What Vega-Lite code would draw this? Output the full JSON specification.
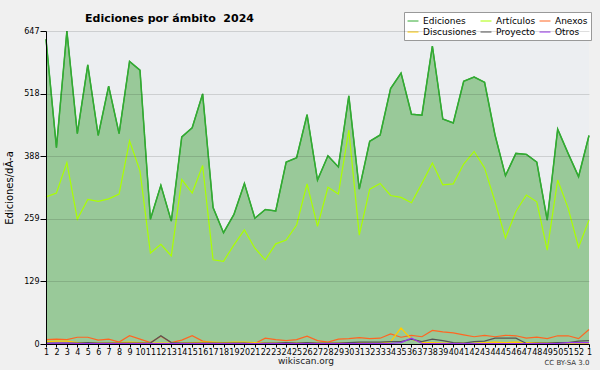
{
 "$schema": "https://vega.github.io/schema/vega-lite/v6.json",
 "width": 543, "height": 313,
 "autosize": {"type": "none"},
 "padding": {"left": 46, "top": 31, "right": 11, "bottom": 26},
 "background": "#f0f0f0",
 "config": {"view": {"fill": "#eceef1", "stroke": null}, "font": "DejaVu Sans"},
 "title": {"text": "Ediciones por ámbito \u00a02024", "anchor": "start", "frame": "group", "dx": 39, "dy": 33, "offset": 12, "fontSize": 11, "fontWeight": "bold", "font": "DejaVu Sans", "color": "#000", "baseline": "alphabetic"},
 "data": {"values": [
  {"i":1,"ed":630,"art":304,"anx":9,"dis":5,"pro":2,"otr":1},
  {"i":2,"ed":406,"art":312,"anx":10,"dis":6,"pro":2,"otr":2},
  {"i":3,"ed":647,"art":375,"anx":9,"dis":6,"pro":2,"otr":2},
  {"i":4,"ed":435,"art":258,"anx":14,"dis":3,"pro":2,"otr":1},
  {"i":5,"ed":577,"art":299,"anx":14,"dis":2,"pro":3,"otr":1},
  {"i":6,"ed":431,"art":295,"anx":8,"dis":2,"pro":2,"otr":1},
  {"i":7,"ed":533,"art":300,"anx":10,"dis":2,"pro":2,"otr":1},
  {"i":8,"ed":435,"art":310,"anx":4,"dis":3,"pro":2,"otr":1},
  {"i":9,"ed":584,"art":420,"anx":17,"dis":4,"pro":2,"otr":1},
  {"i":10,"ed":566,"art":358,"anx":10,"dis":3,"pro":2,"otr":1},
  {"i":11,"ed":258,"art":188,"anx":3,"dis":2,"pro":2,"otr":1},
  {"i":12,"ed":328,"art":206,"anx":16,"dis":2,"pro":17,"otr":1},
  {"i":13,"ed":254,"art":182,"anx":3,"dis":2,"pro":3,"otr":1},
  {"i":14,"ed":428,"art":340,"anx":8,"dis":2,"pro":2,"otr":1},
  {"i":15,"ed":447,"art":312,"anx":17,"dis":3,"pro":2,"otr":1},
  {"i":16,"ed":517,"art":369,"anx":6,"dis":4,"pro":2,"otr":1},
  {"i":17,"ed":282,"art":174,"anx":3,"dis":4,"pro":2,"otr":1},
  {"i":18,"ed":230,"art":171,"anx":2,"dis":3,"pro":2,"otr":1},
  {"i":19,"ed":268,"art":205,"anx":2,"dis":4,"pro":2,"otr":1},
  {"i":20,"ed":332,"art":236,"anx":2,"dis":4,"pro":2,"otr":1},
  {"i":21,"ed":260,"art":198,"anx":1,"dis":3,"pro":1,"otr":1},
  {"i":22,"ed":278,"art":174,"anx":12,"dis":2,"pro":2,"otr":1},
  {"i":23,"ed":275,"art":207,"anx":9,"dis":2,"pro":2,"otr":1},
  {"i":24,"ed":376,"art":215,"anx":7,"dis":2,"pro":3,"otr":1},
  {"i":25,"ed":385,"art":246,"anx":9,"dis":2,"pro":2,"otr":1},
  {"i":26,"ed":474,"art":331,"anx":16,"dis":2,"pro":3,"otr":1},
  {"i":27,"ed":339,"art":243,"anx":7,"dis":2,"pro":2,"otr":1},
  {"i":28,"ed":389,"art":324,"anx":4,"dis":2,"pro":2,"otr":1},
  {"i":29,"ed":366,"art":310,"anx":10,"dis":2,"pro":2,"otr":1},
  {"i":30,"ed":513,"art":442,"anx":11,"dis":2,"pro":3,"otr":1},
  {"i":31,"ed":320,"art":225,"anx":13,"dis":3,"pro":4,"otr":1},
  {"i":32,"ed":419,"art":320,"anx":11,"dis":2,"pro":4,"otr":1},
  {"i":33,"ed":432,"art":332,"anx":12,"dis":2,"pro":4,"otr":1},
  {"i":34,"ed":528,"art":307,"anx":21,"dis":5,"pro":5,"otr":1},
  {"i":35,"ed":560,"art":303,"anx":14,"dis":33,"pro":5,"otr":3},
  {"i":36,"ed":475,"art":292,"anx":18,"dis":10,"pro":10,"otr":12},
  {"i":37,"ed":473,"art":332,"anx":15,"dis":3,"pro":5,"otr":1},
  {"i":38,"ed":616,"art":374,"anx":28,"dis":3,"pro":10,"otr":1},
  {"i":39,"ed":465,"art":329,"anx":25,"dis":2,"pro":7,"otr":1},
  {"i":40,"ed":457,"art":331,"anx":23,"dis":2,"pro":3,"otr":1},
  {"i":41,"ed":543,"art":372,"anx":19,"dis":2,"pro":2,"otr":1},
  {"i":42,"ed":552,"art":398,"anx":15,"dis":2,"pro":5,"otr":1},
  {"i":43,"ed":541,"art":364,"anx":18,"dis":3,"pro":6,"otr":1},
  {"i":44,"ed":432,"art":294,"anx":15,"dis":4,"pro":12,"otr":1},
  {"i":45,"ed":348,"art":219,"anx":18,"dis":3,"pro":12,"otr":1},
  {"i":46,"ed":394,"art":274,"anx":17,"dis":4,"pro":12,"otr":1},
  {"i":47,"ed":392,"art":308,"anx":12,"dis":3,"pro":1,"otr":1},
  {"i":48,"ed":376,"art":294,"anx":14,"dis":3,"pro":2,"otr":1},
  {"i":49,"ed":256,"art":194,"anx":11,"dis":2,"pro":2,"otr":1},
  {"i":50,"ed":444,"art":339,"anx":17,"dis":3,"pro":3,"otr":1},
  {"i":51,"ed":394,"art":281,"anx":17,"dis":2,"pro":3,"otr":3},
  {"i":52,"ed":346,"art":200,"anx":11,"dis":2,"pro":6,"otr":3},
  {"i":53,"ed":431,"art":256,"anx":30,"dis":2,"pro":7,"otr":3}
 ]},
 "encoding": {
  "x": {"field": "i", "type": "quantitative", "scale": {"domain": [1, 53], "nice": false, "zero": false},
   "axis": {"values": [1,2,3,4,5,6,7,8,9,10,11,12,13,14,15,16,17,18,19,20,21,22,23,24,25,26,27,28,29,30,31,32,33,34,35,36,37,38,39,40,41,42,43,44,45,46,47,48,49,50,51,52,53],
    "labelExpr": "datum.value == 53 ? '1' : datum.value", "labelFontSize": 8, "labelOverlap": false, "labelFlush": false, "labelBound": false, "labelPadding": 1, "labelColor": "#000",
    "tickSize": 3, "tickColor": "#000", "domainColor": "#000", "grid": false,
    "title": "wikiscan.org", "titleFontSize": 9, "titleFontWeight": "normal", "titleColor": "#222", "titleX": 259.5, "titleY": 19, "titleBaseline": "alphabetic", "titleAlign": "center"}}
 },
 "layer": [
  {
   "mark": {"type": "area", "color": "#99c999", "opacity": 1, "line": {"color": "#33aa33", "strokeWidth": 1.5}},
   "encoding": {
    "y": {"field": "ed", "type": "quantitative", "scale": {"domain": [0, 647], "nice": false},
     "axis": {"values": [0, 129.4, 258.8, 388.2, 517.6, 647], "format": ".0f", "labelFontSize": 8, "labelPadding": 1, "labelColor": "#000",
      "tickSize": 6, "tickColor": "#000", "domainColor": "#000", "grid": true, "gridColor": "#000", "gridOpacity": 0.13, "zindex": 1,
      "title": "Ediciones/dÃ-a", "titleFontSize": 10, "titleFontWeight": "normal", "titleColor": "#000", "titlePadding": 9}}
   }
  },
  {
   "transform": [{"fold": ["ed", "art", "anx", "dis", "pro", "otr"], "as": ["serie", "v"]}],
   "mark": {"type": "line", "strokeWidth": 1.2},
   "encoding": {
    "y": {"field": "v", "type": "quantitative",
     "axis": {"orient": "right", "labels": false, "ticks": false, "domain": false, "grid": false,
      "title": "CC BY-SA 3.0", "titleAngle": 0, "titleX": 0, "titleY": 333, "titleAlign": "right", "titleBaseline": "alphabetic", "titleFontSize": 7, "titleFontWeight": "normal", "titleColor": "#333"}},
    "color": {"field": "serie", "type": "nominal",
     "scale": {"domain": ["ed", "art", "anx", "dis", "pro", "otr"], "range": ["#33aa33", "#aaff00", "#ff6622", "#ffcc00", "#555555", "#9933ee"]},
     "legend": {"orient": "none", "legendX": 358, "legendY": -19, "columns": 3, "direction": "horizontal", "title": null,
      "symbolType": "stroke", "symbolSize": 120, "symbolStrokeWidth": 1, "labelFontSize": 9, "labelFont": "DejaVu Sans", "labelColor": "#000",
      "fillColor": "#ffffff", "strokeColor": "#999999", "padding": 3, "columnPadding": 1, "rowPadding": -7, "labelOffset": 4,
      "labelExpr": "datum.label == 'ed' ? 'Ediciones' : datum.label == 'art' ? 'Artículos' : datum.label == 'anx' ? 'Anexos' : datum.label == 'dis' ? 'Discusiones' : datum.label == 'pro' ? 'Proyecto' : 'Otros'"}}
   }
  }
 ],
 "resolve": {"axis": {"y": "independent"}}
}
